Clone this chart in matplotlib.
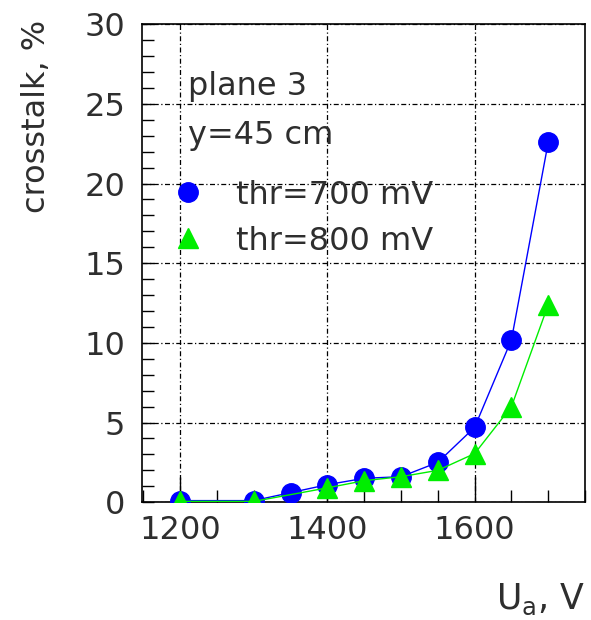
import matplotlib
matplotlib.use('Agg')
import matplotlib.pyplot as plt
from matplotlib.lines import Line2D
from matplotlib.ticker import MultipleLocator

# - data
u_700 = [1200, 1300, 1350, 1400, 1450, 1500, 1550, 1600, 1650, 1700]
xtalk_700 = [0.1, 0.1, 0.6, 1.1, 1.5, 1.6, 2.5, 4.7, 10.2, 22.6]
u_800 = [1200, 1300, 1400, 1450, 1500, 1550, 1600, 1650, 1700]
xtalk_800 = [0.05, 0.05, 0.9, 1.35, 1.6, 2.0, 3.05, 6.0, 12.4]
labels = ['thr=700 mV', 'thr=800 mV']
xticks = [1200, 1400, 1600]

blue = '#0000ff'
green = '#00ee00'
txt = '#2e2e2e'
fs = 23

plt.rcParams['font.family'] = ['DejaVu Sans']

fig = plt.figure(figsize=(5.91, 6.20), dpi=100)
ax = fig.add_axes([0.240, 0.190, 0.750, 0.771])

ax.plot(u_700, xtalk_700, color=blue, lw=1.0, marker='o', ms=14, mec=blue, mfc=blue, zorder=3)
ax.plot(u_800, xtalk_800, color=green, lw=1.0, marker='^', ms=15, mec=green, mfc=green, zorder=4)

ax.set_xlim(1148, 1750)
ax.set_ylim(0, 30)
ax.set_xticks(xticks)
ax.xaxis.set_minor_locator(MultipleLocator(50))
ax.yaxis.set_major_locator(MultipleLocator(5))
ax.yaxis.set_minor_locator(MultipleLocator(1))
ax.tick_params(axis='x', which='major', direction='in', length=18, width=1, pad=9,
               labelsize=fs, labelcolor=txt, top=False)
ax.tick_params(axis='x', which='minor', direction='in', length=8.5, width=1, top=False)
ax.tick_params(axis='y', which='both', direction='in', length=8.5, width=1, right=False)
ax.tick_params(axis='y', which='major', pad=12, labelsize=fs, labelcolor=txt)
for s in ax.spines.values():
    s.set_linewidth(1.2)

ax.grid(True, which='major', color='black', lw=0.9, linestyle=(0, (4, 2, 1, 2)))
ax.set_axisbelow(True)

ax.text(0.104, 0.851, 'plane 3', transform=ax.transAxes, fontsize=fs, color=txt, va='baseline')
ax.text(0.104, 0.749, 'y=45 cm', transform=ax.transAxes, fontsize=fs, color=txt, va='baseline')

handles = [
    Line2D([], [], ls='none', marker='o', ms=14, color=blue),
    Line2D([], [], ls='none', marker='^', ms=15, color=green),
]
leg = ax.legend(handles, labels, loc='upper left', bbox_to_anchor=(0.068, 0.675),
                frameon=False, fontsize=fs, handlelength=1.0, handletextpad=1.0,
                labelspacing=0.47, borderpad=0, borderaxespad=0, numpoints=1)
for t in leg.get_texts():
    t.set_color(txt)

fig.text(0.061, 0.968, 'crosstalk, %', rotation=90, ha='center', va='top', fontsize=fs, color=txt)
fig.text(0.99, 0.018, r'U$_{\mathregular{a}}$, V', ha='right', va='baseline', fontsize=fs + 2, color=txt)

fig.savefig('out.png', dpi=100, facecolor='white')
